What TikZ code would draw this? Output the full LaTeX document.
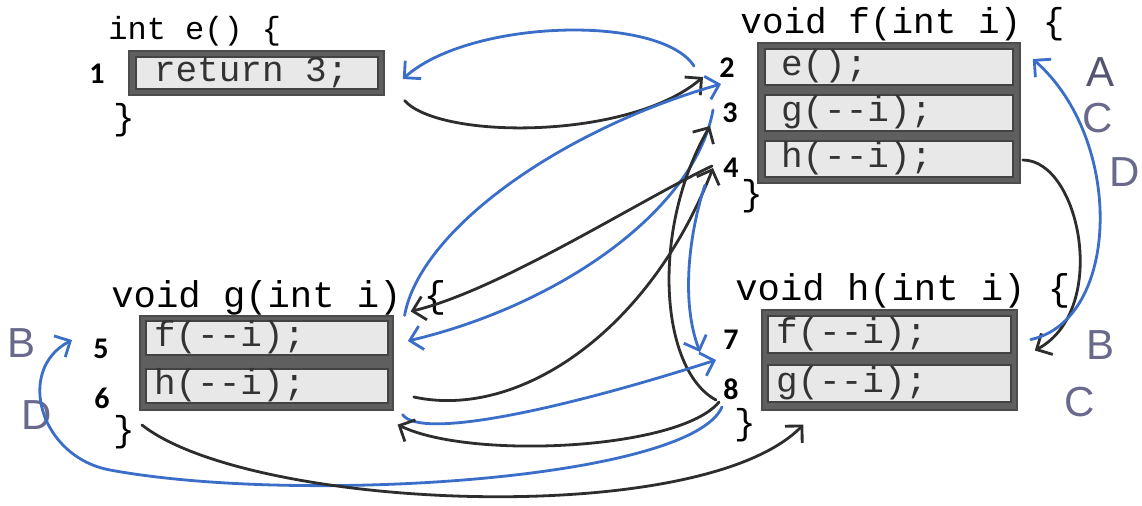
\documentclass[tikz,border=0pt]{standalone}
\usepackage{fontspec}
\usetikzlibrary{positioning, arrows.meta}
\newfontfamily\codefont{Liberation Mono}
\newfontfamily\numfont{Carlito}
\newfontfamily\handfont{Liberation Sans}
\definecolor{ink}{RGB}{45,45,45}
\definecolor{penblue}{RGB}{58,110,200}
\definecolor{framegray}{RGB}{95,95,95}
\definecolor{rowgray}{RGB}{232,232,232}
\definecolor{handcol}{RGB}{105,105,140}

\begin{document}
\begin{tikzpicture}[
    x=0.5pt, y=-0.5pt,
    >={Straight Barb[length=6pt, width=12pt]},
    on grid,
    blackpen/.style={line width=1.4pt, line cap=round, draw=ink},
    bluepen/.style={line width=1.4pt, line cap=round, draw=penblue},
    title/.style={font=\codefont\fontsize{18}{20}\selectfont, anchor=base west, inner sep=0pt},
    funcbox/.style={fill=framegray, draw=framegray!80!black, line width=0.6pt, inner sep=0pt},
    row/.style={fill=rowgray, draw=framegray!70!black, line width=0.8pt, inner ysep=0pt,
        inner xsep=4pt, text width=113pt, align=flush left, minimum height=18pt,
        text height=12pt, text depth=3.5pt, text=black!80,
        font=\codefont\fontsize{18}{20}\selectfont},
    num/.style={font=\numfont\bfseries\fontsize{15}{17}\selectfont, inner sep=1pt},
    closing/.style={font=\codefont\fontsize{18}{20}\selectfont, inner sep=0pt},
    hand/.style={font=\handfont\fontsize{21}{24}\selectfont, text=handcol, inner sep=0pt}
]
\path[fill=white, use as bounding box] (0,0) rectangle (1142,505);

% 函数 e
\node[title, font=\codefont\fontsize{16}{18}\selectfont] (etitle) at (108,39) {int e() \{};
\node[funcbox, minimum width=127.5pt, minimum height=22pt] (eframe) at (256.5,73) {};
\node[row, inner xsep=9pt, text width=103pt, minimum height=16pt] (erow) at (257,73) {return 3;};
\node[closing] (eend) at (124,120) {\}};

% 函数 f
\node[title] (ftitle) at (740,33) {void f(int i) \{};
\node[funcbox, minimum width=131pt, minimum height=70pt] (fframe) at (889,113) {};
\node[row, inner xsep=8pt, text width=108pt] (frow1) at (889,67) {e();};
\node[row, inner xsep=8pt, text width=108pt, below=23pt of frow1] (frow2) {g(--i);};
\node[row, inner xsep=8pt, text width=108pt, below=23pt of frow2] (frow3) {h(--i);};
\node[closing] (fend) at (752,196) {\}};

% 函数 g
\node[title, font=\codefont\fontsize{18.6}{20}\selectfont] (gtitle) at (111,307) {void g(int i) \{};
\node[funcbox, minimum width=126.5pt, minimum height=47pt] (gframe) at (266.5,363) {};
\node[row, minimum height=17pt] (grow1) at (267,338) {f(--i);};
\node[row, minimum height=17pt, below=24pt of grow1] (grow2) {h(--i);};
\node[closing] (gend) at (124,432) {\}};

% 函数 h
\node[title, font=\codefont\fontsize{18.6}{20}\selectfont] (htitle) at (735,300) {void h(int i) \{};
\node[funcbox, minimum width=127.5pt, minimum height=50pt] (hframe) at (889.5,360) {};
\node[row, text width=113.5pt, minimum height=18.5pt] (hrow1) at (889.5,334.5) {f(--i);};
\node[row, text width=113.5pt, minimum height=18.5pt, below=24.5pt of hrow1] (hrow2) {g(--i);};
\node[closing] (hend) at (745,425) {\}};

% 行号
\node[num] (n1) at (97,74) {1};
\node[num] (n2) at (727,68) {2};
\node[num] (n3) at (730,113) {3};
\node[num] (n4) at (731,168) {4};
\node[num] (n5) at (101,349) {5};
\node[num] (n6) at (102,398) {6};
\node[num] (n7) at (731,340) {7};
\node[num] (n8) at (731,389) {8};

% 手写字母
\node[hand, text=handcol!80!black] (la) at (1100,72) {A};
\node[hand] (lc1) at (1098,118) {C};
\node[hand] (ld1) at (1125,172) {D};
\node[hand] (lb1) at (1100,345) {B};
\node[hand] (lc2) at (1080,402) {C};
\node[hand] (lb2) at (22,343) {B};
\node[hand] (ld2) at (37,415) {D};

% 调用与返回
\draw[bluepen,->] ([xshift=-16.5pt,yshift=1pt]n2.center) .. controls (660,14) and (470,19) .. ([xshift=12pt,yshift=-3pt]erow.east);
\draw[blackpen,->] ([xshift=10pt,yshift=-2.5pt]eframe.south east) .. controls (440,140) and (630,140) .. ([xshift=-12pt,yshift=-4.5pt]n2.center);
\draw[bluepen,->] ([xshift=5.5pt]gframe.north east) .. controls (420,230) and (560,130) .. ([xshift=-3pt,yshift=-8pt]n2.center);
\draw[bluepen,->] ([xshift=-8.5pt,yshift=1.5pt]n3.center) .. controls (695,210) and (560,305) .. ([xshift=9.5pt,yshift=-1.5pt]grow1.east);
\draw[blackpen,->] ([xshift=-9.5pt,yshift=1pt]n4.center) .. controls (640,200) and (500,290) .. ([xshift=8.5pt,yshift=2pt]gframe.north east);
\draw[blackpen,->] ([xshift=12.5pt,yshift=-5.5pt]grow2.east) .. controls (520,420) and (650,330) .. ([xshift=-9pt]n4.center);
\draw[blackpen,->] ([xshift=-7.5pt,yshift=-5.5pt]n8.center) .. controls (660,370) and (650,230) .. ([xshift=-10pt,yshift=-6.5pt]n3.center);
\draw[bluepen,->] ([xshift=-13pt,yshift=-8.5pt]n4.center) .. controls (690,230) and (680,300) .. ([xshift=-15.5pt,yshift=-6pt]n7.center);
\draw[bluepen,->] ([xshift=4.5pt,yshift=-2pt]gframe.south east) .. controls (420,440) and (560,410) .. ([xshift=-7.5pt,yshift=-10pt]n7.center);
\draw[blackpen,->] ([xshift=-6pt,yshift=-6.5pt]n8.center) .. controls (680,450) and (470,460) .. ([xshift=2pt,yshift=-7pt]gframe.south east);
\draw[bluepen,->] ([xshift=-4.5pt,yshift=-9pt]n8.center) .. controls (690,480) and (300,505) .. (110,470)
    .. controls (40,457) and (15,370) .. ([xshift=-14.5pt,yshift=4.5pt]n5.center);
\draw[blackpen,->] ([xshift=9pt,yshift=3.5pt]gend.center) .. controls (250,510) and (700,530) .. ([xshift=21pt,yshift=-7pt]hframe.south west);
\draw[blackpen,->] ([xshift=4.5pt,yshift=-0.5pt]frow3.east) .. controls (1080,160) and (1110,310) .. ([xshift=11.5pt,yshift=-8pt]hrow1.east);
\draw[bluepen,->] ([xshift=9.5pt,yshift=-2.5pt]hrow1.east) .. controls (1120,320) and (1125,140) .. ([xshift=9.5pt,yshift=4pt]frow1.east);

\end{tikzpicture}
\end{document}
